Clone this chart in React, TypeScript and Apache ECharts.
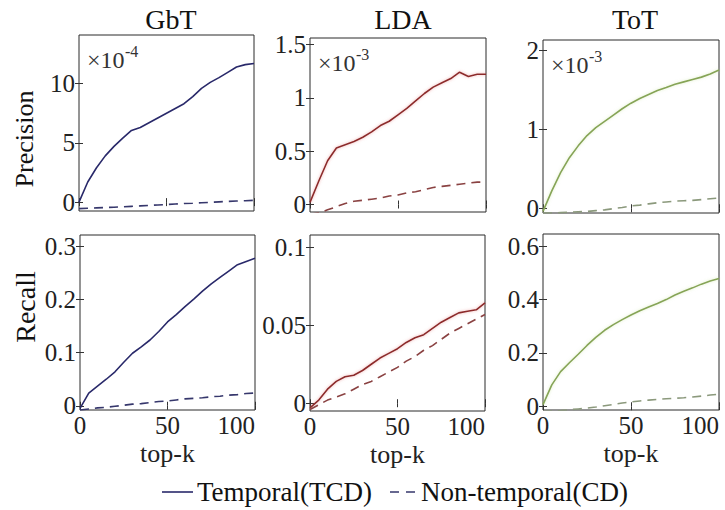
import React, { useEffect, useRef } from "react";
import * as echarts from "echarts";

// ---------- data ----------
const topK = [0, 5, 10, 15, 20, 25, 30, 35, 40, 45, 50, 55, 60, 65, 70, 75, 80, 85, 90, 95, 100];

const methods = ["GbT", "LDA", "ToT"];
const rowNames = ["Precision", "Recall"];
const legendNames = ["Temporal(TCD)", "Non-temporal(CD)"];

// Precision (GbT in 1e-4, LDA/ToT in 1e-3)
const gbtPrecTCD = [0, 1.7, 2.9, 3.9, 4.7, 5.4, 6.05, 6.3, 6.7, 7.1, 7.5, 7.9, 8.3, 8.9, 9.6, 10.1, 10.5, 10.95, 11.4, 11.6, 11.7];
const gbtPrecCD = [-0.55, -0.52, -0.49, -0.46, -0.43, -0.4, -0.36, -0.32, -0.28, -0.24, -0.2, -0.16, -0.12, -0.09, -0.05, -0.02, 0.02, 0.06, 0.09, 0.12, 0.15];
const ldaPrecTCD = [0.02, 0.22, 0.41, 0.53, 0.56, 0.59, 0.63, 0.68, 0.74, 0.78, 0.84, 0.9, 0.97, 1.04, 1.1, 1.14, 1.18, 1.24, 1.2, 1.22, 1.22];
const ldaPrecCD = [-0.09, -0.08, -0.05, -0.02, 0.01, 0.03, 0.04, 0.05, 0.06, 0.08, 0.09, 0.11, 0.12, 0.14, 0.16, 0.17, 0.18, 0.19, 0.2, 0.21, 0.21];
const totPrecTCD = [-0.04, 0.22, 0.45, 0.64, 0.79, 0.92, 1.02, 1.1, 1.18, 1.26, 1.33, 1.39, 1.44, 1.49, 1.53, 1.57, 1.6, 1.63, 1.66, 1.7, 1.75];
const totPrecCD = [-0.06, -0.06, -0.055, -0.05, -0.045, -0.04, -0.03, -0.02, -0.005, 0.01, 0.03, 0.04, 0.055, 0.07, 0.08, 0.09, 0.095, 0.1, 0.11, 0.12, 0.13];

// Recall
const gbtRecTCD = [-0.005, 0.024, 0.037, 0.05, 0.064, 0.082, 0.099, 0.111, 0.124, 0.14, 0.158, 0.172, 0.187, 0.201, 0.216, 0.23, 0.242, 0.254, 0.266, 0.272, 0.278];
const gbtRecCD = [-0.008, -0.006, -0.004, -0.003, -0.001, 0.001, 0.003, 0.004, 0.006, 0.008, 0.009, 0.011, 0.013, 0.014, 0.015, 0.017, 0.018, 0.02, 0.021, 0.023, 0.024];
const ldaRecTCD = [-0.003, 0.002, 0.009, 0.014, 0.017, 0.018, 0.021, 0.025, 0.029, 0.032, 0.035, 0.039, 0.042, 0.044, 0.048, 0.052, 0.055, 0.058, 0.059, 0.06, 0.0645];
const ldaRecCD = [-0.004, -0.001, 0.002, 0.004, 0.006, 0.009, 0.012, 0.014, 0.017, 0.02, 0.023, 0.027, 0.03, 0.034, 0.037, 0.041, 0.045, 0.048, 0.051, 0.054, 0.057];
const totRecTCD = [0.006, 0.08, 0.13, 0.163, 0.195, 0.228, 0.258, 0.285, 0.306, 0.325, 0.342, 0.358, 0.372, 0.385, 0.4, 0.417, 0.431, 0.444, 0.458, 0.47, 0.479];
const totRecCD = [-0.02, -0.018, -0.016, -0.013, -0.01, -0.007, -0.003, 0.002, 0.007, 0.012, 0.016, 0.02, 0.023, 0.026, 0.028, 0.03, 0.032, 0.035, 0.038, 0.042, 0.045];

// tick labels
const yTicks = [
  [0, 5, 10],
  [0, 0.5, 1, 1.5],
  [0, 1, 2],
  [0, 0.1, 0.2, 0.3],
  [0, 0.05, 0.1],
  [0, 0.2, 0.4, 0.6],
];
const exponents = ["-4", "-3", "-3"];

// ---------- layout / style ----------
const FONT = "Liberation Serif";
const panels = [
  { left: 79, top: 35, width: 175, height: 176, ymin: -0.75, ymax: 14.1 },
  { left: 310, top: 38, width: 176, height: 174, ymin: -0.07, ymax: 1.56 },
  { left: 543, top: 40, width: 176, height: 173, ymin: -0.06, ymax: 2.13 },
  { left: 80, top: 235, width: 175, height: 175, ymin: -0.008, ymax: 0.322 },
  { left: 310, top: 235, width: 175, height: 176, ymin: -0.005, ymax: 0.108 },
  { left: 543, top: 234, width: 176, height: 176, ymin: -0.014, ymax: 0.646 },
];
const solidColors = ["#29296a", "#8c2c2c", "#86a457"];
const dashColors = ["#36376c", "#8a4242", "#8b997c"];
const glowColors = ["rgba(0,0,0,0)", "rgba(225,110,110,0.55)", "rgba(190,220,140,0.5)"];

const seriesData = [
  [gbtPrecTCD, gbtPrecCD],
  [ldaPrecTCD, ldaPrecCD],
  [totPrecTCD, totPrecCD],
  [gbtRecTCD, gbtRecCD],
  [ldaRecTCD, ldaRecCD],
  [totRecTCD, totRecCD],
];

function buildOption() {
  const grid: any[] = [];
  const xAxis: any[] = [];
  const yAxis: any[] = [];
  const series: any[] = [];
  const graphic: any[] = [];
  const title: any[] = [];

  panels.forEach((p, i) => {
    const row = Math.floor(i / 3);
    const col = i % 3;
    grid.push({
      left: p.left,
      top: p.top,
      width: p.width,
      height: p.height,
      show: true,
      borderColor: "#2a2a2a",
      borderWidth: 1,
      backgroundColor: "transparent",
    });
    const tickStyle = { show: true, inside: true, length: 4, lineStyle: { color: "#333", width: 1 } };
    xAxis.push({
      type: "value",
      gridIndex: i,
      position: "bottom",
      min: 0,
      max: 100,
      interval: 50,
      axisLine: { show: false },
      axisTick: tickStyle,
      splitLine: { show: false },
      axisLabel: {
        show: row === 1,
        fontFamily: FONT,
        fontSize: 25,
        color: "#222",
        margin: 3,
        alignMaxLabel: "right",
      },
      name: row === 1 ? "top-k" : "",
      nameLocation: "middle",
      nameGap: 30,
      nameTextStyle: { fontFamily: FONT, fontSize: 26, color: "#222" },
    });
    xAxis.push({
      type: "value",
      gridIndex: i,
      position: "top",
      min: 0,
      max: 100,
      interval: 50,
      axisLine: { show: false },
      axisTick: tickStyle,
      splitLine: { show: false },
      axisLabel: { show: false },
    });
    yAxis.push({
      type: "value",
      gridIndex: i,
      position: "left",
      min: p.ymin,
      max: p.ymax,
      axisLine: { show: false },
      axisTick: { ...tickStyle, customValues: yTicks[i] },
      splitLine: { show: false },
      axisLabel: {
        customValues: yTicks[i],
        fontFamily: FONT,
        fontSize: 25,
        color: "#222",
        margin: 4,
      },
    });
    yAxis.push({
      type: "value",
      gridIndex: i,
      position: "right",
      min: p.ymin,
      max: p.ymax,
      axisLine: { show: false },
      axisTick: { ...tickStyle, customValues: yTicks[i] },
      splitLine: { show: false },
      axisLabel: { show: false },
    });

    const [tcd, cd] = seriesData[i];
    series.push({
      type: "line",
      name: legendNames[0],
      xAxisIndex: i * 2,
      yAxisIndex: i * 2,
      data: topK.map((k, j) => [k, tcd[j]]),
      showSymbol: false,
      symbol: "none",
      lineStyle: {
        color: solidColors[col],
        width: 1.6,
        type: "solid",
        shadowColor: glowColors[col],
        shadowBlur: col === 0 ? 0 : 3,
      },
    });
    series.push({
      type: "line",
      name: legendNames[1],
      xAxisIndex: i * 2,
      yAxisIndex: i * 2,
      data: topK.map((k, j) => [k, cd[j]]),
      showSymbol: false,
      symbol: "none",
      lineStyle: { color: dashColors[col], width: 1.6, type: [9, 6] },
    });
  });

  const titleX = [166, 398, 630];
  methods.forEach((m, c) => {
    title.push({
      text: m,
      left: titleX[c],
      top: 0,
      textAlign: "center",
      textStyle: { fontFamily: FONT, fontSize: 28, fontWeight: "normal", color: "#111" },
    });
  });

  // exponent annotations
  panels.slice(0, 3).forEach((p, c) => {
    const x = p.left + 8;
    const y = p.top + 25;
    graphic.push({
      type: "text",
      x,
      y,
      style: { text: "\u00d710", fontFamily: FONT, fontSize: 24, fill: "#333", textVerticalAlign: "middle" },
    });
    graphic.push({
      type: "text",
      x: x + 38,
      y: y - 9,
      style: { text: exponents[c], fontFamily: FONT, fontSize: 16, fill: "#333", textVerticalAlign: "middle" },
    });
  });

  // row labels
  const rowPos = [
    { x: 24, y: 139, size: 26 },
    { x: 25, y: 307, size: 28 },
  ];
  rowNames.forEach((r, k) => {
    graphic.push({
      type: "text",
      x: rowPos[k].x,
      y: rowPos[k].y,
      rotation: Math.PI / 2,
      style: {
        text: r,
        fontFamily: FONT,
        fontSize: rowPos[k].size,
        fill: "#111",
        textAlign: "center",
        textVerticalAlign: "middle",
      },
    });
  });

  // legend (drawn as graphic)
  const legY = 492;
  graphic.push({
    type: "line",
    shape: { x1: 162, y1: legY, x2: 193, y2: legY },
    style: { stroke: solidColors[0], lineWidth: 1.6 },
  });
  graphic.push({
    type: "text",
    x: 197,
    y: legY,
    style: { text: legendNames[0], fontFamily: FONT, fontSize: 27, fill: "#111", textVerticalAlign: "middle" },
  });
  graphic.push({
    type: "line",
    shape: { x1: 390, y1: legY, x2: 418, y2: legY },
    style: { stroke: dashColors[0], lineWidth: 1.6, lineDash: [9, 7] },
  });
  graphic.push({
    type: "text",
    x: 421,
    y: legY,
    style: { text: legendNames[1], fontFamily: FONT, fontSize: 27, fill: "#111", textVerticalAlign: "middle" },
  });

  return {
    animation: false,
    backgroundColor: "#fff",
    title,
    grid,
    xAxis,
    yAxis,
    series,
    graphic,
  };
}

export default function App() {
  const ref = useRef<HTMLDivElement>(null);
  useEffect(() => {
    if (!ref.current) return;
    const chart = echarts.init(ref.current, undefined, { renderer: "svg" });
    chart.setOption(buildOption() as any);
    return () => chart.dispose();
  }, []);
  return (
    <div
      ref={ref}
      style={{ position: "fixed", left: 0, top: 0, width: 725, height: 510, background: "#fff" }}
    />
  );
}
